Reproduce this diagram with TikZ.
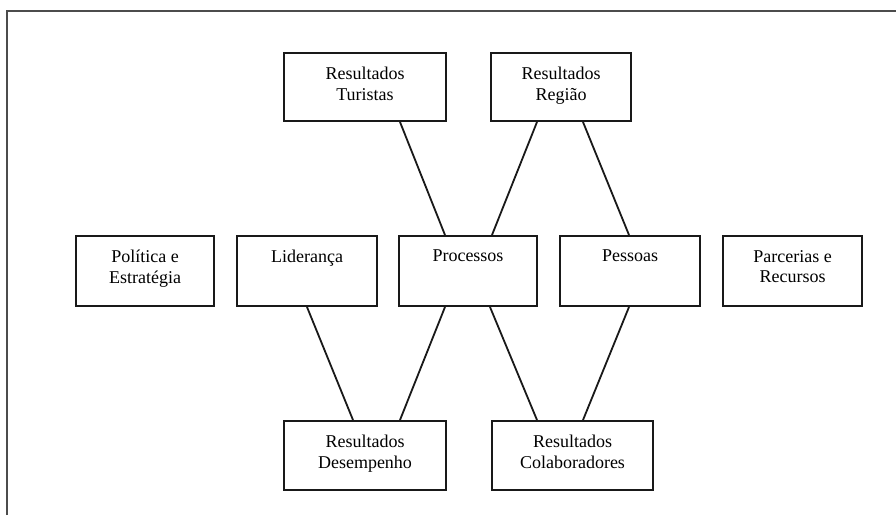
\documentclass[tikz,border=0pt]{standalone}
\usepackage{fontspec}
\setmainfont{Liberation Serif}
\newfontfamily\boxfont{Liberation Serif}
\begin{document}
\begin{tikzpicture}[x=1pt,y=-1pt,
  box/.style={draw=black!90,line width=2pt,rectangle,minimum height=68pt,inner sep=0pt},
  txt/.style={anchor=north,yshift=-15pt,align=center,inner sep=0pt,text=black,
              font=\boxfont\fontsize{18}{20.5}\selectfont},
  link/.style={draw=black!90,line width=1.8pt},
  frame/.style={draw=black!70,line width=1.8pt}]
\useasboundingbox (0,0) rectangle (896,515);

% outer frame (top and left edges)
\coordinate (fa) at (7,515);
\coordinate (fb) at (7,11);
\coordinate (fc) at (896,11);
\draw[frame] (fa) -- (fb) -- (fc);

% top row
\node[box,minimum width=162pt,label={[txt]north:Resultados\\Turistas}] (tur) at (365,87) {};
\node[box,minimum width=140pt,label={[txt]north:Resultados\\Região}] (reg) at (561,87) {};

% middle row
\node[box,minimum width=138pt,minimum height=70pt,label={[txt]north:Política e\\Estratégia}] (pol) at (145,271) {};
\node[box,minimum width=140pt,minimum height=70pt,label={[txt]north:Liderança}] (lid) at (307,271) {};
\node[box,minimum width=138pt,minimum height=70pt,label={[txt]north:Processos}] (pro) at (468,271) {};
\node[box,minimum width=140pt,minimum height=70pt,label={[txt]north:Pessoas}] (pes) at (630,271) {};
\node[box,minimum width=139pt,minimum height=70pt,label={[txt]north:Parcerias e\\Recursos}] (par) at (792.5,271) {};

% bottom row
\node[box,minimum width=162pt,minimum height=69pt,label={[txt]north:Resultados\\Desempenho}] (des) at (365,455.5) {};
\node[box,minimum width=161pt,minimum height=69pt,label={[txt]north:Resultados\\Colaboradores}] (col) at (572.5,455.5) {};

% connectors
\draw[link] ([xshift=35pt]tur.south) -- ([xshift=-23pt]pro.north);
\draw[link] ([xshift=-24pt]reg.south) -- ([xshift=24pt]pro.north);
\draw[link] ([xshift=22pt]reg.south) -- ([xshift=-1pt]pes.north);
\draw[link] (lid.south) -- ([xshift=-12pt]des.north);
\draw[link] ([xshift=-23pt]pro.south) -- ([xshift=35pt]des.north);
\draw[link] ([xshift=22pt]pro.south) -- ([xshift=-35.5pt]col.north);
\draw[link] ([xshift=-1pt]pes.south) -- ([xshift=10.5pt]col.north);
\end{tikzpicture}
\end{document}
